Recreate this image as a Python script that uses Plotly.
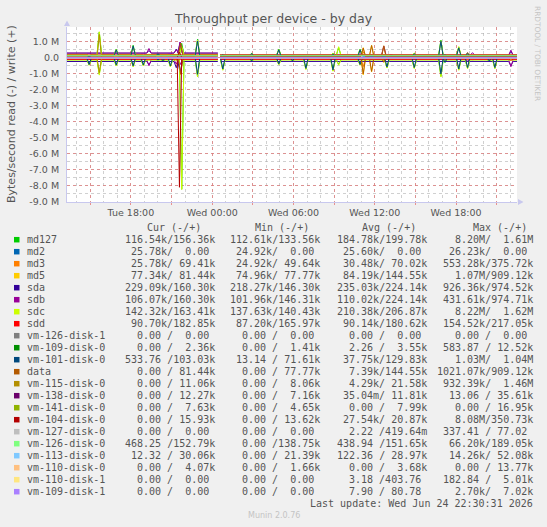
import pandas as pd
import plotly.graph_objects as go

# ---- devices, colours and legend table -------------------------------------------
devices = ["md127", "md2", "md3", "md5", "sda", "sdb", "sdc", "sdd",
           "vm-126-disk-1", "vm-109-disk-0", "vm-101-disk-0", "data",
           "vm-115-disk-0", "vm-138-disk-0", "vm-141-disk-0", "vm-104-disk-0",
           "vm-127-disk-0", "vm-126-disk-0", "vm-113-disk-0", "vm-110-disk-0",
           "vm-110-disk-1", "vm-109-disk-1"]
colors = ["#00CC00", "#0066B3", "#FF8000", "#FFCC00", "#330099", "#990099",
          "#CCFF00", "#FF0000", "#808080", "#008F00", "#00487D", "#B35A00",
          "#B38F00", "#6B006B", "#8FB300", "#B30000", "#BEBEBE", "#80FF80",
          "#80C9FF", "#FFC080", "#FFE680", "#AA80FF"]

cur_txt = ["116.54k/156.36k", "25.78k/  0.00 ", "25.78k/ 69.41k", "77.34k/ 81.44k",
           "229.09k/160.30k", "106.07k/160.30k", "142.32k/163.41k", "90.70k/182.85k",
           "0.00 /  0.00 ", "0.00 /  2.36k", "533.76 /103.03k", "0.00 / 81.44k",
           "0.00 / 11.06k", "0.00 / 12.27k", "0.00 /  7.63k", "0.00 / 15.93k",
           "0.00 /  0.00 ", "468.25 /152.79k", "12.32 / 30.06k", "0.00 /  4.07k",
           "0.00 /  0.00 ", "0.00 /  0.00 "]
min_txt = ["112.61k/133.56k", "24.92k/  0.00 ", "24.92k/ 49.64k", "74.96k/ 77.77k",
           "218.27k/146.30k", "101.96k/146.31k", "137.63k/140.43k", "87.20k/165.97k",
           "0.00 /  0.00 ", "0.00 /  1.41k", "13.14 / 71.61k", "0.00 / 77.77k",
           "0.00 /  8.06k", "0.00 /  7.16k", "0.00 /  4.65k", "0.00 / 13.62k",
           "0.00 /  0.00 ", "0.00 /138.75k", "0.00 / 21.39k", "0.00 /  1.66k",
           "0.00 /  0.00 ", "0.00 /  0.00 "]
avg_txt = ["184.78k/199.78k", "25.60k/  0.00 ", "30.48k/ 70.02k", "84.19k/144.55k",
           "235.03k/224.14k", "110.02k/224.14k", "210.38k/206.87k", "90.14k/180.62k",
           "0.00 /  0.00 ", "2.26 /  3.55k", "37.75k/129.83k", "7.39k/144.55k",
           "4.29k/ 21.58k", "35.04m/ 11.81k", "0.00 /  7.99k", "27.54k/ 20.87k",
           "2.22 /419.64m", "438.94 /151.65k", "122.36 / 28.97k", "0.00 /  3.68k",
           "3.18 /403.76 ", "7.90 / 80.78 "]
max_txt = ["8.20M/  1.61M", "26.23k/  0.00 ", "553.28k/375.72k", "1.07M/909.12k",
           "926.36k/974.52k", "431.61k/974.71k", "8.22M/  1.62M", "154.52k/217.05k",
           "0.00 /  0.00 ", "583.87 / 12.52k", "1.03M/  1.04M", "1021.07k/909.12k",
           "932.39k/  1.46M", "13.06 / 35.61k", "0.00 / 16.95k", "8.08M/350.73k",
           "337.41 / 77.02 ", "66.20k/189.05k", "14.26k/ 52.08k", "0.00 / 13.77k",
           "182.84 /  5.01k", "2.70k/  7.02k"]
headers = ["Cur (-/+)", "Min (-/+)", "Avg (-/+)", "Max (-/+)"]

# ---- steady levels (bytes/s) before and after the short gap after midnight ----
read_before = [120e3, 26e3, 26e3, 80e3, 232e3, 108e3, 145e3, 92e3, 0, 0, 2e3, 0,
               0, 0, 0, 0, 0, 0.5e3, 0.1e3, 0, 0, 0]
write_before = [200e3, 0, 70e3, 130e3, 290e3, 290e3, 210e3, 180e3, 0, 3e3, 130e3, 130e3,
                20e3, 12e3, 8e3, 20e3, 0, 152e3, 30e3, 4e3, 0, 0]
read_after = [116.54e3, 25.78e3, 25.78e3, 77.34e3, 229.09e3, 106.07e3, 142.32e3, 90.70e3,
              0, 0, 533.76, 0, 0, 0, 0, 0, 0, 468.25, 12.32, 0, 0, 0]
write_after = [156.36e3, 0, 69.41e3, 81.44e3, 160.30e3, 160.30e3, 163.41e3, 182.85e3,
               0, 2.36e3, 103.03e3, 81.44e3, 11.06e3, 12.27e3, 7.63e3, 15.93e3,
               0, 152.79e3, 30.06e3, 4.07e3, 0, 0]

# ---- bursts: time, device, read peak, write peak (bytes/s) -------------------------
spike_time = [
    "2026-06-23 14:55", "2026-06-23 14:55", "2026-06-23 14:55",
    "2026-06-23 15:40", "2026-06-23 15:40", "2026-06-23 15:40",
    "2026-06-23 16:55", "2026-06-23 16:55", "2026-06-23 16:55",
    "2026-06-23 18:10", "2026-06-23 18:10", "2026-06-23 18:10",
    "2026-06-23 18:55", "2026-06-23 18:55", "2026-06-23 18:55",
    "2026-06-23 19:20", "2026-06-23 19:20",
    "2026-06-23 20:00", "2026-06-23 20:00",
    "2026-06-23 20:22", "2026-06-23 20:22",
    "2026-06-23 20:55", "2026-06-23 20:55", "2026-06-23 20:55",
    "2026-06-23 21:21", "2026-06-23 21:21",
    "2026-06-23 21:35", "2026-06-23 21:40", "2026-06-23 21:40",
    "2026-06-23 21:38", "2026-06-23 21:38",
    "2026-06-23 21:45", "2026-06-23 21:45",
    "2026-06-23 22:55", "2026-06-23 22:55", "2026-06-23 22:55",
    "2026-06-24 00:47", "2026-06-24 00:47", "2026-06-24 00:47",
    "2026-06-24 02:55", "2026-06-24 02:55",
    "2026-06-24 04:55", "2026-06-24 04:55", "2026-06-24 04:55",
    "2026-06-24 05:56", "2026-06-24 05:56",
    "2026-06-24 06:55", "2026-06-24 06:55", "2026-06-24 06:55",
    "2026-06-24 08:55", "2026-06-24 08:55", "2026-06-24 08:55",
    "2026-06-24 09:20", "2026-06-24 09:20",
    "2026-06-24 10:55", "2026-06-24 10:55", "2026-06-24 10:55", "2026-06-24 10:55",
    "2026-06-24 11:09", "2026-06-24 11:09", "2026-06-24 11:09",
    "2026-06-24 11:46", "2026-06-24 11:46",
    "2026-06-24 12:40", "2026-06-24 12:40", "2026-06-24 12:40",
    "2026-06-24 12:54", "2026-06-24 12:54", "2026-06-24 12:54",
    "2026-06-24 13:12",
    "2026-06-24 14:55", "2026-06-24 14:55", "2026-06-24 14:55",
    "2026-06-24 16:53", "2026-06-24 16:53", "2026-06-24 16:53",
    "2026-06-24 17:11", "2026-06-24 17:11",
    "2026-06-24 18:12", "2026-06-24 18:12", "2026-06-24 18:12",
    "2026-06-24 18:51", "2026-06-24 18:51", "2026-06-24 18:51", "2026-06-24 18:51",
    "2026-06-24 19:13",
    "2026-06-24 20:27", "2026-06-24 20:27",
    "2026-06-24 20:52", "2026-06-24 20:52", "2026-06-24 20:52",
    "2026-06-24 22:03", "2026-06-24 22:03", "2026-06-24 22:03",
]
spike_dev = [
    "md127", "sdc", "vm-101-disk-0",
    "md127", "sdc", "vm-115-disk-0",
    "md127", "sdc", "vm-101-disk-0",
    "md127", "sdc", "vm-101-disk-0",
    "md127", "sdc", "vm-101-disk-0",
    "sda", "sdb",
    "md127", "vm-101-disk-0",
    "md127", "vm-101-disk-0",
    "md127", "sdc", "vm-101-disk-0",
    "sda", "sdb",
    "vm-104-disk-0", "md5", "data",
    "sda", "sdb",
    "md127", "sdc",
    "md127", "sdc", "vm-101-disk-0",
    "md127", "sdc", "vm-101-disk-0",
    "md127", "vm-101-disk-0",
    "md127", "sdc", "vm-101-disk-0",
    "md127", "vm-101-disk-0",
    "md127", "sdc", "vm-101-disk-0",
    "md127", "sdc", "vm-101-disk-0",
    "md127", "sdc",
    "md127", "sdb", "sdc", "vm-101-disk-0",
    "md3", "md5", "data",
    "md5", "data",
    "md5", "sdb", "data",
    "md127", "sdc", "vm-101-disk-0",
    "sdb",
    "md127", "sdc", "vm-101-disk-0",
    "md127", "sdc", "vm-101-disk-0",
    "md127", "vm-101-disk-0",
    "md127", "sdc", "vm-101-disk-0",
    "md127", "sdb", "sdc", "vm-101-disk-0",
    "sdb",
    "md127", "vm-101-disk-0",
    "md127", "sdc", "vm-101-disk-0",
    "sda", "sdb", "sdd",
]
spike_read = [
    450e3, 470e3, 420e3,
    1000e3, 1080e3, 930e3,
    480e3, 510e3, 450e3,
    540e3, 570e3, 510e3,
    480e3, 510e3, 450e3,
    420e3, 500e3,
    150e3, 130e3,
    200e3, 180e3,
    540e3, 570e3, 510e3,
    620e3, 400e3,
    8080e3, 1070e3, 1021e3,
    926e3, 431e3,
    8200e3, 8220e3,
    1150e3, 1190e3, 1030e3,
    740e3, 780e3, 700e3,
    200e3, 180e3,
    400e3, 430e3, 380e3,
    200e3, 180e3,
    700e3, 740e3, 660e3,
    800e3, 840e3, 760e3,
    420e3, 460e3,
    440e3, 150e3, 470e3, 420e3,
    553e3, 1070e3, 1000e3,
    880e3, 850e3,
    290e3, 150e3, 270e3,
    610e3, 640e3, 580e3,
    150e3,
    640e3, 680e3, 610e3,
    1150e3, 1200e3, 1020e3,
    300e3, 270e3,
    740e3, 780e3, 700e3,
    650e3, 200e3, 680e3, 610e3,
    120e3,
    210e3, 190e3,
    650e3, 680e3, 610e3,
    500e3, 560e3, 154e3,
]
spike_write = [
    100e3, 110e3, 80e3,
    1610e3, 1620e3, 1460e3,
    530e3, 500e3, 490e3,
    780e3, 650e3, 720e3,
    150e3, 160e3, 130e3,
    450e3, 580e3,
    250e3, 230e3,
    170e3, 140e3,
    170e3, 180e3, 150e3,
    540e3, 500e3,
    350e3, 909e3, 909e3,
    974e3, 974e3,
    900e3, 700e3,
    1150e3, 1100e3, 1040e3,
    200e3, 210e3, 180e3,
    270e3, 240e3,
    540e3, 500e3, 490e3,
    150e3, 130e3,
    130e3, 140e3, 110e3,
    270e3, 280e3, 240e3,
    640e3, 690e3,
    540e3, 250e3, 500e3, 490e3,
    376e3, 630e3, 600e3,
    790e3, 760e3,
    750e3, 740e3, 720e3,
    120e3, 130e3, 100e3,
    210e3,
    270e3, 280e3, 240e3,
    1100e3, 1060e3, 1030e3,
    200e3, 180e3,
    660e3, 700e3, 620e3,
    280e3, 330e3, 290e3, 260e3,
    320e3,
    110e3, 90e3,
    110e3, 120e3, 90e3,
    400e3, 480e3, 217e3,
]

y_tick_vals = [1e6, 0, -1e6, -2e6, -3e6, -4e6, -5e6, -6e6, -7e6, -8e6, -9e6]
y_tick_labels = ["1.0 M", "0.0", "-1.0 M", "-2.0 M", "-3.0 M", "-4.0 M", "-5.0 M",
                 "-6.0 M", "-7.0 M", "-8.0 M", "-9.0 M"]
x_tick_labels = {"2026-06-23 18:00": "Tue 18:00", "2026-06-24 00:00": "Wed 00:00",
                 "2026-06-24 06:00": "Wed 06:00", "2026-06-24 12:00": "Wed 12:00",
                 "2026-06-24 18:00": "Wed 18:00"}

t_start = pd.Timestamp("2026-06-23 13:17")
t_end = pd.Timestamp("2026-06-24 22:30")
gap_start = pd.Timestamp("2026-06-24 00:25")
gap_end = pd.Timestamp("2026-06-24 00:35")
shoulder = pd.Timedelta(minutes=10)

# ---- page geometry (pixels) ------------------------------------------------------
W, H = 547, 527
ML, MR, MT, MB = 67, 30, 27, 325
PW, PH = W - ML - MR, H - MT - MB
TXT = "#555555"


def px(x):
    return (x - ML) / PW


def py(y):
    return (H - MB - y) / PH


def build(sign, before, after, peaks):
    xs, ys = [], []
    for s, e, base in [(t_start, gap_start, before), (gap_end, t_end, after)]:
        xs.append(s)
        ys.append(sign * base)
        for t, v in sorted(peaks):
            if s < t < e:
                xs += [t - shoulder, t, t + shoulder]
                ys += [sign * base, sign * v, sign * base]
        xs += [e, e]
        ys += [sign * base, None]
    return xs, ys


fig = go.Figure()
for i, dev in enumerate(devices):
    rp = [(pd.Timestamp(t), r) for t, d, r in zip(spike_time, spike_dev, spike_read) if d == dev]
    wp = [(pd.Timestamp(t), w) for t, d, w in zip(spike_time, spike_dev, spike_write) if d == dev]
    for sign, before, after, peaks in [(-1, read_before[i], read_after[i], rp),
                                       (1, write_before[i], write_after[i], wp)]:
        xs, ys = build(sign, before, after, peaks)
        fig.add_trace(go.Scatter(x=xs, y=ys, mode="lines", connectgaps=False,
                                 line=dict(color=colors[i], width=1),
                                 showlegend=False, hoverinfo="skip"))

grid_ticks = pd.date_range("2026-06-23 15:00", "2026-06-24 21:00", freq="3h")
fig.update_xaxes(
    range=[t_start, t_end], showline=True, linecolor="#c8c8ee", linewidth=1,
    tickvals=grid_ticks,
    ticktext=[x_tick_labels.get(t.strftime("%Y-%m-%d %H:%M"), "") for t in grid_ticks],
    ticks="outside", ticklen=2, tickcolor="#e89090",
    tickfont=dict(family="DejaVu Sans", size=9.5, color=TXT),
    showgrid=True, gridcolor="rgba(225,120,120,0.7)", griddash="dot", gridwidth=1,
    minor=dict(dtick=3600000, tick0="2026-06-23 00:00", showgrid=True,
               gridcolor="rgba(170,170,170,0.55)", griddash="dot", gridwidth=1),
    zeroline=False, fixedrange=True,
)
fig.update_yaxes(
    range=[-9.0e6, 1.92e6], showline=True, linecolor="#c8c8ee", linewidth=1,
    tickvals=y_tick_vals, ticktext=y_tick_labels, ticks="", ticklabelstandoff=5,
    tickfont=dict(family="DejaVu Sans", size=9.5, color=TXT),
    showgrid=True, gridcolor="rgba(225,120,120,0.7)", griddash="dot", gridwidth=1,
    minor=dict(dtick=500000, tick0=0, showgrid=True,
               gridcolor="rgba(170,170,170,0.55)", griddash="dot", gridwidth=1),
    zeroline=False, fixedrange=True,
)

shapes = [
    dict(type="path", xref="paper", yref="paper", line=dict(width=0), fillcolor="#c8c8ee",
         path=f"M {px(64)} {py(26)} L {px(67)} {py(20.5)} L {px(70)} {py(26)} Z"),
    dict(type="path", xref="paper", yref="paper", line=dict(width=0), fillcolor="#c8c8ee",
         path=f"M {px(518)} {py(199)} L {px(523.5)} {py(202)} L {px(518)} {py(205)} Z"),
]
ann = [
    dict(text="Bytes/second read (-) / write (+)", x=px(11), y=py(114), textangle=-90,
         font=dict(family="DejaVu Sans", size=11, color=TXT)),
    dict(text="RRDTOOL / TOBI OETIKER", x=px(538), y=py(53), textangle=90,
         font=dict(family="DejaVu Sans", size=7.4, color="#c4c4c4")),
    dict(text="Munin 2.0.76", x=px(273.5), y=py(515.7),
         font=dict(family="DejaVu Sans", size=8, color="#c4c4c4")),
    dict(text="Last update: Wed Jun 24 22:30:31 2026".replace(" ", "\u00a0"),
         x=px(533.5), y=py(503.7), xanchor="right",
         font=dict(family="DejaVu Sans Mono", size=10, color=TXT)),
]
for h, cx in zip(headers, [173.5, 282, 389, 499.5]):
    ann.append(dict(text=h.replace(" ", "\u00a0"), x=px(cx), y=py(227.3),
                    font=dict(family="DejaVu Sans Mono", size=10, color=TXT)))

col_right = [215.5, 321, 427.5, 533.5]
for i, dev in enumerate(devices):
    ry = 239.7 + 12 * i
    shapes.append(dict(type="rect", xref="paper", yref="paper", line=dict(width=0),
                       fillcolor=colors[i], x0=px(14), x1=px(19.5),
                       y0=py(ry + 2.75), y1=py(ry - 2.75)))
    ann.append(dict(text=dev, x=px(26), y=py(ry), xanchor="left",
                    font=dict(family="DejaVu Sans Mono", size=10, color=TXT)))
    for col, xr in zip([cur_txt, min_txt, avg_txt, max_txt], col_right):
        ann.append(dict(text=col[i].replace(" ", "\u00a0"), x=px(xr), y=py(ry),
                        xanchor="right",
                        font=dict(family="DejaVu Sans Mono", size=10, color=TXT)))

for a in ann:
    a.update(xref="paper", yref="paper", showarrow=False, yanchor="middle",
             borderpad=0)
    a.setdefault("xanchor", "center")

fig.update_layout(
    width=W, height=H, margin=dict(l=ML, r=MR, t=MT, b=MB),
    paper_bgcolor="#F0F0F0", plot_bgcolor="white",
    title=dict(text="Throughput per device - by day", x=0.5, xref="container",
               y=1 - 19 / H, yref="container", yanchor="middle", xanchor="center",
               font=dict(family="DejaVu Sans", size=12.5, color=TXT)),
    shapes=shapes, annotations=ann, showlegend=False, hovermode=False,
)

# page has a default 8px body margin; remove it so the figure sits at the corner
fig.write_html("out.html", config={"displayModeBar": False, "staticPlot": True},
               post_script="document.body.style.margin='0';")
